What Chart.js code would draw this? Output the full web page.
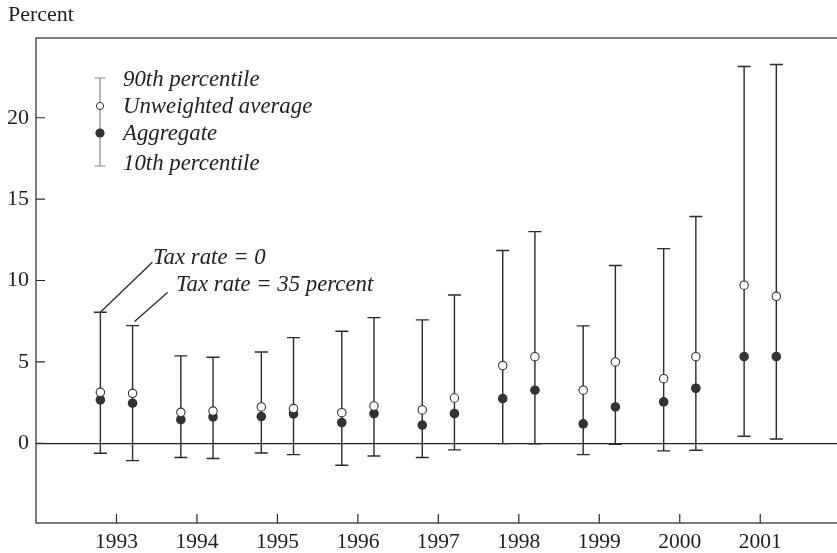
<!DOCTYPE html>
<html lang="en">
<head>
  <meta charset="UTF-8" />
  <title>Percent by year</title>
  <script src="https://cdn.jsdelivr.net/npm/chart.js"></script>
  <style>
    html, body {
      margin: 0;
      padding: 0;
      background: #fff;
      overflow: hidden;
    }
    canvas { display: block; }
  </style>
</head>
<body>
  <canvas id="grafico" width="846" height="553"></canvas>

  <script>
    const years = [1993, 1994, 1995, 1996, 1997, 1998, 1999, 2000, 2001];
    const yTicks = [0, 5, 10, 15, 20];

    // tax rate = 0 (left of each year)
    const p90Zero = [8.05, 5.37, 5.61, 6.88, 7.58, 11.84, 7.21, 11.96, 23.15];
    const avgZero = [3.13, 1.90, 2.23, 1.88, 2.05, 4.77, 3.26, 3.97, 9.71];
    const aggZero = [2.66, 1.45, 1.64, 1.27, 1.12, 2.74, 1.19, 2.54, 5.32];
    const p10Zero = [-0.61, -0.88, -0.60, -1.35, -0.88, -0.02, -0.70, -0.47, 0.43];

    // tax rate = 35 percent (right of each year)
    const p90High = [7.23, 5.28, 6.49, 7.72, 9.11, 13.00, 10.92, 13.93, 23.27];
    const avgHigh = [3.07, 1.98, 2.13, 2.29, 2.78, 5.32, 5.00, 5.32, 9.03];
    const aggHigh = [2.46, 1.62, 1.80, 1.82, 1.82, 3.26, 2.23, 3.38, 5.32];
    const p10High = [-1.07, -0.94, -0.70, -0.78, -0.41, -0.03, -0.06, -0.43, 0.26];

    const offset = 0.2;
    const serif = "'Liberation Serif', 'DejaVu Serif', serif";
    const ink = '#2b2b2b';

    function pts(vals, dx) {
      return years.map((y, i) => ({ x: y + dx, y: vals[i] }));
    }

    const whiskers = {
      id: 'whiskers',
      beforeDatasetsDraw(chart) {
        const ctx = chart.ctx, xs = chart.scales.x, ys = chart.scales.y;
        ctx.save();
        ctx.strokeStyle = ink;
        ctx.lineWidth = 1.4;
        const groups = [[p10Zero, p90Zero, -offset], [p10High, p90High, offset]];
        groups.forEach(([lo, hi, dx]) => {
          years.forEach((yr, i) => {
            const x = xs.getPixelForValue(yr + dx);
            const y1 = ys.getPixelForValue(lo[i]);
            const y2 = ys.getPixelForValue(hi[i]);
            ctx.beginPath();
            ctx.moveTo(x, y1); ctx.lineTo(x, y2);
            ctx.moveTo(x - 6.5, y1); ctx.lineTo(x + 6.5, y1);
            ctx.moveTo(x - 6.5, y2); ctx.lineTo(x + 6.5, y2);
            ctx.stroke();
          });
        });
        ctx.restore();
      },
      afterDraw(chart) {
        const ctx = chart.ctx, xs = chart.scales.x, ys = chart.scales.y;
        const a = chart.chartArea;
        ctx.save();
        // frame
        ctx.strokeStyle = '#444';
        ctx.lineWidth = 1.4;
        ctx.strokeRect(a.left, a.top, a.right - a.left, a.bottom - a.top);
        // inward ticks
        ctx.strokeStyle = ink;
        ctx.lineWidth = 1.2;
        ctx.beginPath();
        yTicks.forEach(v => {
          const y = ys.getPixelForValue(v);
          ctx.moveTo(a.left, y); ctx.lineTo(a.left + 9, y);
        });
        years.forEach(v => {
          const x = xs.getPixelForValue(v);
          ctx.moveTo(x, a.bottom); ctx.lineTo(x, a.bottom - 9);
        });
        ctx.stroke();

        // axis title
        ctx.fillStyle = '#222';
        ctx.font = '22px ' + serif;
        ctx.textBaseline = 'middle';
        ctx.textAlign = 'left';
        ctx.fillText('Percent', 8, 15);

        // legend
        const lx = 100;
        ctx.strokeStyle = '#8a8a8a';
        ctx.lineWidth = 1.2;
        ctx.beginPath();
        ctx.moveTo(lx, 78); ctx.lineTo(lx, 166);
        ctx.moveTo(lx - 5.5, 78); ctx.lineTo(lx + 5.5, 78);
        ctx.moveTo(lx - 5.5, 166); ctx.lineTo(lx + 5.5, 166);
        ctx.stroke();
        ctx.fillStyle = '#fff';
        ctx.strokeStyle = '#333';
        ctx.lineWidth = 1;
        ctx.beginPath(); ctx.arc(lx, 106, 3.6, 0, Math.PI * 2); ctx.fill(); ctx.stroke();
        ctx.fillStyle = '#333';
        ctx.beginPath(); ctx.arc(lx, 133, 4.6, 0, Math.PI * 2); ctx.fill();

        ctx.fillStyle = '#222';
        ctx.font = 'italic 22.8px ' + serif;
        ctx.fillText('90th percentile', 123, 80);
        ctx.fillText('Unweighted average', 123, 107);
        ctx.fillText('Aggregate', 123, 134);
        ctx.fillText('10th percentile', 123, 164);

        // annotations with leader lines
        ctx.strokeStyle = ink;
        ctx.lineWidth = 1.3;
        const x0 = xs.getPixelForValue(years[0] - offset);
        const y0 = ys.getPixelForValue(p90Zero[0]);
        const x1 = xs.getPixelForValue(years[0] + offset);
        const y1 = ys.getPixelForValue(p90High[0]);
        ctx.beginPath();
        ctx.moveTo(x0, y0); ctx.lineTo(x0 + 52, y0 - 50);
        ctx.moveTo(x1 + 2, y1 - 4); ctx.lineTo(x1 + 35, y1 - 33);
        ctx.stroke();
        ctx.fillText('Tax rate = 0', 153, 258);
        ctx.fillText('Tax rate = 35 percent', 176, 285);
        ctx.restore();
      }
    };

    function dibujar() {
      Chart.defaults.font.family = serif;
      Chart.defaults.color = '#222';
      const ctx = document.getElementById('grafico').getContext('2d');
      new Chart(ctx, {
        type: 'scatter',
        data: {
          datasets: [
            { label: 'Unweighted average', data: pts(avgZero, -offset).concat(pts(avgHigh, offset)),
              pointStyle: 'circle', pointRadius: 4.2, borderColor: '#333', backgroundColor: '#fff', borderWidth: 1.1 },
            { label: 'Aggregate', data: pts(aggZero, -offset).concat(pts(aggHigh, offset)),
              pointStyle: 'circle', pointRadius: 4.8, borderColor: '#333', backgroundColor: '#333', borderWidth: 0 }
          ]
        },
        options: {
          responsive: false,
          animation: false,
          devicePixelRatio: 1,
          layout: { padding: { top: 38, right: 0, left: 0, bottom: 0 } },
          plugins: { legend: { display: false }, tooltip: { enabled: false } },
          scales: {
            x: {
              type: 'linear', min: 1992, max: 2002,
              afterBuildTicks: s => { s.ticks = years.map(v => ({ value: v })); },
              afterFit: s => { s.height = 30; },
              grid: { display: false, drawTicks: false },
              border: { display: false },
              ticks: { font: { size: 21.5 }, color: '#222', padding: 6, callback: v => String(v), maxRotation: 0 }
            },
            y: {
              type: 'linear', min: -4.9, max: 24.9,
              afterBuildTicks: s => { s.ticks = yTicks.map(v => ({ value: v })); },
              afterFit: s => { s.width = 36; },
              grid: { drawTicks: false, lineWidth: 1.3, color: c => c.tick && c.tick.value === 0 ? '#222' : 'rgba(0,0,0,0)' },
              border: { display: false },
              ticks: { font: { size: 22 }, color: '#222', padding: 7 }
            }
          }
        },
        plugins: [whiskers]
      });
    }

    window.onload = dibujar;
  </script>
</body>
</html>
